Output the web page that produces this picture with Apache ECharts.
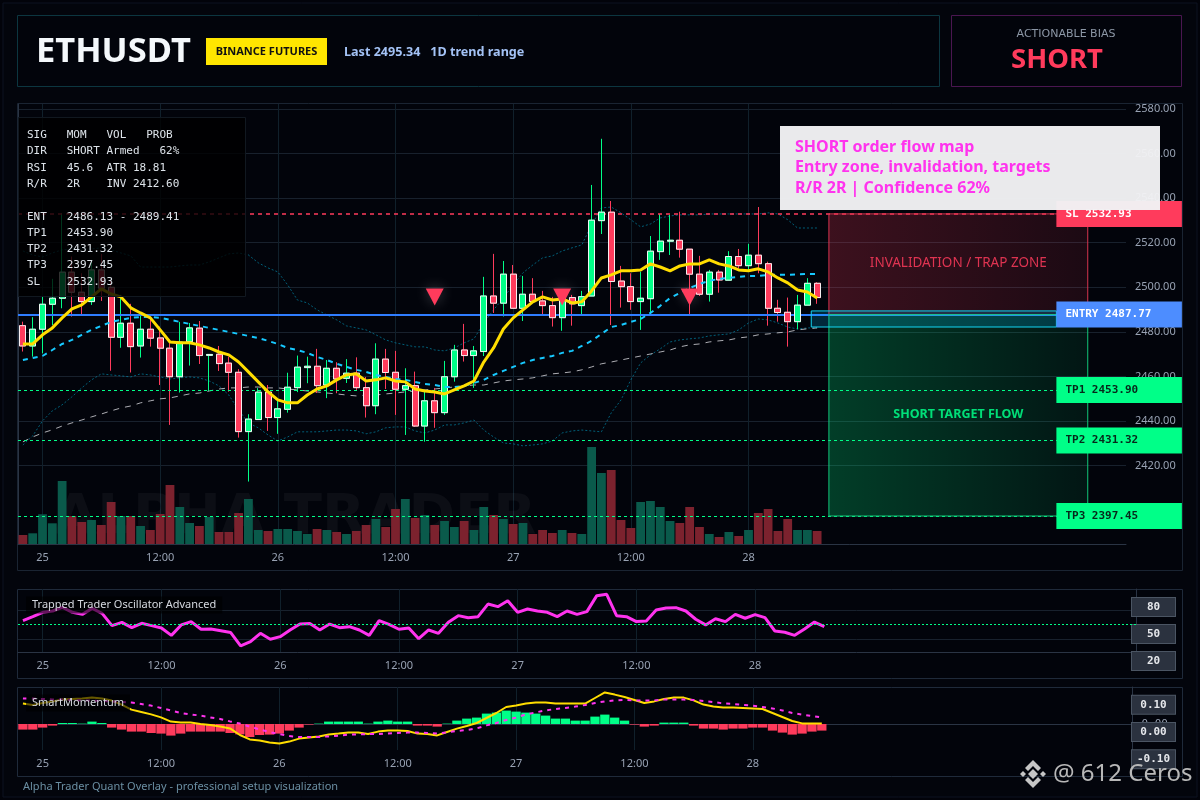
<!DOCTYPE html>
<html><head><meta charset="utf-8">
<script src="https://cdn.jsdelivr.net/npm/echarts@6/dist/echarts.min.js"></script>
<style>html,body{margin:0;background:#02030a}#c{width:1200px;height:800px}</style></head>
<body><div id="c"></div>
<script>
const opens=[2482.8,2473.7,2481.2,2492.4,2495.1,2506.8,2497.8,2493.6,2507.8,2500,2477.6,2483.9,2473.7,2481.2,2477.3,2472.7,2459.9,2475.6,2481.7,2469.5,2470,2466,2461.9,2435.3,2440.7,2453,2441.6,2445.3,2455,2464,2464.6,2456.2,2463.7,2459.2,2461.5,2455,2446.9,2467.8,2461.9,2454.3,2455.9,2437.8,2449.1,2443.8,2459.9,2471.9,2469.4,2471.2,2496.1,2492.9,2505.9,2490.6,2496.9,2493.9,2491.8,2486.4,2495.4,2491.8,2496.1,2529.9,2533.7,2502.8,2500.3,2493.6,2494.9,2516,2520.7,2521.1,2517.1,2505.9,2496.9,2506.8,2503.2,2513.8,2509.7,2514.4,2510.6,2490.6,2488.8,2484.6,2492,2501.8];
const highs=[2484.6,2486.6,2495.8,2503.8,2533.2,2513.8,2506.3,2512.3,2515,2503.3,2496.6,2492.6,2488.4,2486.9,2482.4,2475.1,2484.5,2484,2484.9,2470.1,2473.7,2468.9,2463.3,2443.1,2454.8,2456.2,2449.5,2461.7,2469.4,2468.9,2472.4,2467.4,2466.4,2467.8,2468.6,2459.8,2474.9,2472.4,2471.5,2463.7,2462.2,2454,2454.9,2467,2474.2,2483.6,2473.7,2504.7,2515,2511.8,2510,2505.1,2504.1,2498.4,2495.7,2498.8,2496.6,2498.4,2545.9,2566.6,2538.7,2509.6,2506.3,2507,2523,2532.9,2532.5,2533.9,2517.2,2514.1,2507.8,2507.8,2516.2,2517.2,2519.5,2536,2511.5,2494.4,2495.4,2496.6,2504.1,2502.3];
const lows=[2471.2,2468.9,2470.4,2483.1,2490.6,2486.9,2487.3,2492.1,2493.9,2462.6,2472.9,2461.8,2468.5,2473.4,2456.2,2438.3,2452.8,2464.9,2465.6,2453.5,2462.5,2453.2,2432.6,2412.9,2440.7,2435.6,2434.3,2443.8,2453,2457,2452.6,2450.3,2452.5,2457.1,2454,2441.6,2443.1,2454.4,2442.8,2433.8,2437.4,2430.8,2437,2442.8,2457.7,2466.7,2454.9,2469.2,2488.5,2486.9,2490.6,2484.9,2493.6,2487.6,2482.4,2480.5,2482.8,2487.3,2496.1,2523.9,2483.1,2490.9,2489.9,2480.9,2487.3,2512.3,2514.5,2513.3,2487.3,2496.1,2493.6,2497.6,2503.2,2508.6,2507.8,2506.3,2482.8,2484.6,2473.4,2481.2,2492,2492.6];
const closes=[2473.7,2481.2,2492.4,2495.1,2506.8,2497.8,2493.6,2507.8,2499.6,2477.6,2483.9,2473.4,2481.2,2477.2,2472.7,2459.9,2475.4,2481.8,2469.4,2469.9,2465.8,2461.9,2435.3,2440.9,2453,2441.6,2445.5,2455.2,2464.2,2464.6,2455.9,2463.7,2458.9,2461.5,2455,2446.9,2467.8,2461.8,2454.3,2455.9,2437.8,2449.1,2443.8,2459.9,2471.9,2469.4,2471.5,2496.1,2492.9,2505.9,2490.6,2496.9,2493.6,2491.8,2486.4,2496.6,2492.6,2495.8,2530.1,2533.7,2502.6,2500.3,2493.6,2495.1,2516.2,2520.7,2521.1,2517.1,2505.9,2496.9,2506.8,2503.3,2513.8,2509.7,2514.4,2510.6,2490.6,2488.7,2484.6,2492,2501.8,2495.4];
const volumes=[90,107,297,207,630,280,220,240,190,420,280,280,180,140,300,590,370,210,180,270,120,120,310,450,140,130,150,150,130,100,150,140,120,100,130,190,250,170,350,450,260,290,190,230,170,230,140,370,290,250,200,210,100,140,110,140,110,100,970,710,740,240,160,420,430,370,230,210,370,170,100,70,120,80,140,310,350,130,250,140,140,130];
const emaFast=[2474.6,2474.6,2478.7,2481.8,2486.3,2490.3,2492.1,2495.7,2499.3,2497,2495.7,2490.8,2488.5,2486.3,2480.9,2475.5,2475.1,2475.1,2474.2,2472.8,2471,2469.7,2466.5,2462.1,2457.6,2453.1,2449.5,2448.2,2448.2,2451.7,2454.4,2455.8,2458.5,2460.7,2461.2,2458,2458.5,2459.4,2458,2457.6,2454.4,2453.5,2453.1,2452.2,2454,2455.8,2458,2466.5,2472.8,2481.3,2486.3,2489.9,2493.5,2495.7,2494.3,2494.8,2493,2493.5,2498.4,2504.2,2505.6,2507.4,2507.4,2507.8,2510.5,2509.1,2507.4,2509.6,2510.5,2510.5,2512.3,2510.5,2509.6,2507.8,2507.4,2508.3,2506.9,2504.2,2502,2498.8,2497.9,2495.2];
const emaSlow=[2467.4,2468.3,2469.2,2471.9,2474.6,2476.4,2478.7,2480.9,2482.7,2484.5,2485.4,2486.3,2486.7,2486.7,2486.3,2485.4,2484.5,2483.6,2482.7,2481.8,2480.9,2480,2479.1,2478.2,2477.3,2476,2474.6,2472.8,2471.9,2470.6,2468.8,2467.4,2465.7,2464.3,2463,2462.1,2460.7,2459.8,2458.9,2458.5,2457.6,2456.7,2456.2,2455.3,2455.3,2455.8,2457.1,2458.5,2460.7,2462.5,2464.3,2466.1,2467.4,2468.3,2469.2,2470.6,2471.5,2473.7,2476,2479.1,2482.2,2483.1,2484.5,2485.8,2488.5,2491.7,2495.2,2497.5,2499.7,2501.5,2502.9,2503.8,2504.2,2504.7,2505.1,2505.1,2505.6,2505.6,2505.6,2505.8,2506,2506];
const emaLong=[2430.7,2432.9,2434.7,2436.1,2437.8,2439.2,2440.5,2441.9,2443.2,2444.6,2445.9,2446.8,2448.2,2449.1,2450,2450.4,2451.3,2452.2,2452.6,2453.5,2454.4,2454.9,2454.9,2455.3,2455.3,2454.9,2454.9,2454.4,2454,2453.5,2453.1,2452.6,2452.2,2451.7,2451.3,2451.7,2451.7,2452.2,2452.6,2453.1,2453.5,2454,2454.4,2454.9,2455.3,2455.8,2456.2,2456.2,2457.1,2458,2458.5,2458.9,2459.4,2460.3,2461.2,2461.6,2462.1,2463,2464.3,2465.7,2466.5,2467.4,2468.3,2469.2,2470.1,2471,2471.9,2473.3,2474.2,2474.6,2475.5,2476,2476.4,2477.3,2477.8,2478.7,2479.1,2479.6,2480,2480.9,2481.4,2481.8];
const bandUpper=[2516.3,2514.5,2513.6,2515.4,2516.8,2517.2,2517.2,2517.2,2517.7,2516.8,2515.4,2514.1,2509.1,2509.1,2509.1,2509.1,2509.6,2510,2510,2511.4,2513.2,2515,2515.4,2514.5,2511,2508.7,2506.9,2501.1,2494.3,2493,2489.9,2487.6,2485.4,2482.7,2481.8,2480.9,2478.7,2476.4,2475.1,2474.2,2473.3,2473.3,2471.9,2471.5,2472.8,2475.1,2476.9,2484,2489.9,2495.2,2501.1,2506.5,2510,2513.2,2514.1,2516.3,2517.7,2519,2528,2535.6,2536,2533.4,2530.3,2527.1,2528.4,2531.1,2532,2532.5,2532.5,2532.5,2532.9,2532.9,2532.9,2532.9,2532.9,2532.9,2533.4,2532.9,2530.3,2526.6,2526.6,2526.6];
const bandLower=[2429.3,2433.4,2440.1,2444.6,2447.3,2450.9,2454.9,2458.5,2461.2,2460.7,2460.3,2459.8,2461.2,2460.7,2459.8,2458.9,2459.4,2459.8,2459.4,2458,2455.8,2451.7,2445,2439.2,2437,2433.8,2431.1,2432.9,2435.2,2435.2,2435.2,2435.6,2436,2436,2435.6,2434.3,2435.2,2437,2437.4,2437.4,2435.6,2434.7,2436,2438.3,2438.3,2439.2,2440.5,2436,2432.9,2430.2,2429.8,2428.9,2429.3,2429.8,2431.1,2434.7,2435.6,2436,2435.6,2435.2,2443.7,2449.5,2458.5,2466.1,2469.7,2472.4,2475.5,2476.4,2476.9,2477.3,2478.2,2478.7,2479.1,2480.9,2484,2485.8,2485.4,2484,2482.2,2481.3,2481.8,2481.8];
const oscillator=[52.7,55.4,58.4,59.3,61.8,58.4,57,61.1,57.7,49.2,51.5,47.8,50.8,49.2,47.6,42.5,49.7,52,46.7,46.9,45.7,44.4,35.2,38.2,43.9,39.8,41.6,46.2,50.3,50.6,46.2,50.3,47.8,48.5,46.2,42.5,52.7,50.1,46.7,47.6,40.2,46.2,43.9,51.5,56.1,54.7,55.4,64.1,62.3,66.4,58.4,60.7,59.3,58.4,55.4,59.3,57,58.9,69.9,70.8,56.1,55.4,52,52.4,60,61.4,61.6,59.3,53.6,49.7,54,52,57,54.3,56.8,54.7,45.5,44.6,42.5,46.9,51.7,48.5];
const momHist=[-.028,-.028,-.018,-.008,.005,.005,.002,.012,.005,-.018,-.028,-.038,-.038,-.045,-.048,-.058,-.048,-.038,-.038,-.038,-.038,-.045,-.052,-.065,-.055,-.053,-.048,-.033,-.018,-.003,.002,.012,.012,.012,.012,.002,.012,.017,.012,.012,-.008,-.008,-.013,.002,.017,.027,.032,.052,.057,.067,.062,.057,.052,.042,.027,.027,.017,.017,.037,.047,.032,.017,-.003,-.013,-.008,.007,.007,.007,-.008,-.023,-.023,-.028,-.023,-.023,-.018,-.018,-.033,-.043,-.053,-.048,-.038,-.033];
const momLine=[.102,.095,.105,.113,.122,.125,.128,.133,.128,.117,.097,.072,.06,.048,.033,.012,.008,.008,0,-.005,-.012,-.022,-.055,-.077,-.082,-.092,-.098,-.088,-.073,-.068,-.062,-.052,-.048,-.043,-.043,-.05,-.038,-.032,-.033,-.035,-.048,-.05,-.057,-.04,-.023,-.01,.005,.03,.055,.085,.093,.103,.107,.108,.102,.103,.102,.102,.13,.158,.147,.135,.12,.105,.113,.125,.132,.132,.118,.097,.088,.082,.082,.08,.078,.075,.055,.035,.015,.003,.003,.002];
const momSignal=[.128,.127,.125,.123,.122,.12,.118,.117,.115,.113,.11,.107,.1,.092,.08,.068,.055,.048,.042,.033,.025,.013,.002,-.013,-.027,-.04,-.05,-.06,-.065,-.065,-.065,-.062,-.058,-.053,-.052,-.05,-.05,-.047,-.045,-.043,-.043,-.045,-.047,-.042,-.035,-.03,-.022,-.007,.005,.02,.032,.048,.058,.068,.075,.08,.087,.095,.105,.113,.118,.12,.118,.117,.118,.122,.122,.122,.12,.115,.11,.103,.1,.095,.092,.085,.078,.068,.055,.047,.04,.033];
const tickLabels=[[2,'25'],[14,'12:00'],[26,'26'],[38,'12:00'],[50,'27'],[62,'12:00'],[74,'28']];
const slotCount=113;
const priceTicks=[2420,2440,2460,2480,2500,2520,2540,2560,2580];
const signalBars=[42,55,68];
const signalPrice=2495.7;
const levelNames=['SL','ENTRY','TP1','TP2','TP3'];
const levelPrices=[2532.93,2487.77,2453.90,2431.32,2397.45];
const oscTicks=['20','50','80'];
const momTicks=['-0.10','0.00','0.10'];
const tableText='SIG   MOM   VOL   PROB\nDIR   SHORT Armed   62%\nRSI   45.6  ATR 18.81\nR/R   2R    INV 2412.60\n\nENT   2486.13 - 2489.41\nTP1   2453.90\nTP2   2431.32\nTP3   2397.45\nSL    2532.93';
const noteText='SHORT order flow map\nEntry zone, invalidation, targets\nR/R 2R | Confidence 62%';

const UP='#00ff88',DOWN='#ff3b5c';
const SANS='"Noto Sans",sans-serif',MONO='"DejaVu Sans Mono",monospace';
const cats=Array.from({length:slotCount},(_,i)=>{const t=tickLabels.find(k=>k[0]===i);return t?t[1]:'';});
const isTick=i=>tickLabels.some(k=>k[0]===i);
const candleFull=opens.map((o,i)=>[o,closes[i],lows[i],highs[i]]);
const candleBody=opens.map((o,i)=>[o,closes[i],Math.min(o,closes[i]),Math.max(o,closes[i])]);
const GRID='#18212d',VGRID='#10202b',AXIS='#2a3444',TICKTXT='#98a2b3';

function makeX(gridIndex,show){return {type:'category',gridIndex,data:cats,boundaryGap:true,show,
  axisLine:{lineStyle:{color:AXIS}},
  axisTick:{alignWithLabel:true,interval:i=>isTick(i),lineStyle:{color:AXIS},length:4},
  axisLabel:{interval:0,color:TICKTXT,fontFamily:SANS,fontSize:11,margin:8,hideOverlap:false},
  splitLine:{show:true,alignWithLabel:true,interval:i=>isTick(i),lineStyle:{color:VGRID}}};}
const boxLabel={inside:false,margin:21.5,width:43,height:18,lineHeight:18,align:'center',color:'#e5e7eb',fontFamily:MONO,fontSize:11,fontWeight:'bold',backgroundColor:'#2b323f',borderColor:'#4b5563',borderWidth:1,interval:0};

function zoneItem(fill,stroke,xa,pa,xb,pb,api){
  const a=api.coord([xa,pa]),b=api.coord([xb,pb]);
  return {type:'rect',shape:{x:a[0],y:a[1],width:b[0]-a[0],height:b[1]-a[1]},style:{fill,stroke,lineWidth:1}};
}
const redFill={type:'linear',x:0,y:0,x2:1,y2:0,colorStops:[{offset:0,color:'rgba(255,59,92,.23)'},{offset:1,color:'rgba(255,59,92,.10)'}]};
const greenFill={type:'linear',x:0,y:0,x2:1,y2:0,colorStops:[{offset:0,color:'rgba(0,255,136,.23)'},{offset:1,color:'rgba(0,255,136,.07)'}]};
const zoneBars=[82.7,109.1],tagBars=[105.9,118.7],entryBoxBars=[80.9,105.9],entryBoxPrices=[2489.41,2482.2];
const zoneLabelBar=95.9,zoneLabels=[['INVALIDATION / TRAP ZONE',2511,DOWN],['SHORT TARGET FLOW',2443.2,UP]];

const tagFill=[DOWN,'#4d8dff',UP,UP,UP],tagText=['#fff','#fff','#06281a','#06281a','#06281a'];

const option={
 animation:false,backgroundColor:'transparent',
 grid:[
  {left:18,top:104,width:1108,height:440},
  {left:18,top:589,width:1118,height:63},
  {left:18,top:687,width:1114.5,height:63},
  {left:1130,top:593.5,width:2,height:81},
  {left:1130,top:691,width:2,height:82}],
 xAxis:[makeX(0,true),makeX(1,true),makeX(2,true),
  {type:'value',gridIndex:0,min:0,max:slotCount,show:false},
  {type:'category',gridIndex:3,data:[''],show:false},
  {type:'category',gridIndex:4,data:[''],show:false}],
 yAxis:[
  {type:'value',gridIndex:0,position:'right',min:2384.9,max:2582.2,
   axisLine:{show:true,lineStyle:{color:AXIS}},axisTick:{show:false,customValues:priceTicks},
   axisLabel:{customValues:priceTicks,color:TICKTXT,fontFamily:SANS,fontSize:11,margin:9,formatter:v=>v.toFixed(2)},
   splitLine:{show:true,lineStyle:{color:GRID}}},
  {type:'value',gridIndex:0,min:0,max:4400,show:false,splitLine:{show:false}},
  {type:'value',gridIndex:1,position:'right',min:31,max:74.5,axisLine:{show:true,lineStyle:{color:AXIS}},
   axisTick:{show:false,customValues:[40,60]},axisLabel:{show:false,customValues:[40,60]},splitLine:{show:true,lineStyle:{color:GRID}}},
  {type:'value',gridIndex:2,position:'right',min:-.13,max:.185,axisLine:{show:true,lineStyle:{color:AXIS}},
   axisTick:{show:false,customValues:[0]},axisLabel:{customValues:[0],color:TICKTXT,fontFamily:MONO,fontSize:11,margin:9,formatter:v=>v.toFixed(2)},splitLine:{show:true,lineStyle:{color:GRID}}},
  {type:'category',gridIndex:3,position:'right',data:oscTicks,axisLine:{show:false},axisTick:{show:false},axisLabel:boxLabel,splitLine:{show:false}},
  {type:'category',gridIndex:4,position:'right',data:momTicks,axisLine:{show:false},axisTick:{show:false},axisLabel:boxLabel,splitLine:{show:false}}],
 graphic:{elements:[
  {type:'rect',z:-5,shape:{x:3,y:3,width:1194,height:794},style:{fill:'#03050c',stroke:'#0d1220',lineWidth:1}},
  {type:'rect',z:-4,shape:{x:17.5,y:15.5,width:922,height:71},style:{fill:'#02040b',stroke:'#0c3640',lineWidth:1}},
  {type:'rect',z:-4,shape:{x:951.5,y:15.5,width:230,height:71},style:{fill:'#02040b',stroke:'#4a1650',lineWidth:1}},
  {type:'rect',z:-4,shape:{x:17.5,y:103.5,width:1165,height:467},style:{fill:'#02040b',stroke:'#1a2432',lineWidth:1}},
  {type:'rect',z:-4,shape:{x:17.5,y:589.5,width:1165,height:89},style:{fill:'#02040b',stroke:'#1f2a3a',lineWidth:1}},
  {type:'rect',z:-4,shape:{x:17.5,y:687.5,width:1165,height:89},style:{fill:'#02040b',stroke:'#1f2a3a',lineWidth:1}},
  {type:'text',z:1,style:{text:'ALPHA TRADER',x:54,y:518,font:'bold 56px "DejaVu Sans"',fill:'rgba(255,255,255,.045)',textVerticalAlign:'middle'}},
  {type:'text',z:20,style:{text:'ETHUSDT',x:36,y:52,font:'bold 34.5px '+SANS,fill:'#f4f8fb',textVerticalAlign:'middle',shadowBlur:12,shadowColor:'rgba(0,229,255,.35)'}},
  {type:'rect',z:20,shape:{x:206,y:38,width:121,height:27},style:{fill:'#ffe600'}},
  {type:'text',z:21,style:{text:'BINANCE FUTURES',x:266.5,y:51.5,font:'bold 11px '+SANS,fill:'#111',textAlign:'center',textVerticalAlign:'middle'}},
  {type:'text',z:20,style:{text:'Last 2495.34   1D trend range',x:344,y:52,font:'bold 12.6px '+SANS,fill:'#a3c2f5',textVerticalAlign:'middle'}},
  {type:'text',z:20,style:{text:'ACTIONABLE BIAS',x:1066,y:34,font:'11px "DejaVu Sans"',fill:'#8c97a6',textAlign:'center',textVerticalAlign:'middle'}},
  {type:'text',z:20,style:{text:'SHORT',x:1057,y:60,font:'bold 27.5px '+SANS,fill:DOWN,textAlign:'center',textVerticalAlign:'middle',shadowBlur:10,shadowColor:'rgba(255,59,92,.5)'}},
  {type:'rect',z:50,shape:{x:18.5,y:117.5,width:227,height:179},style:{fill:'rgba(0,0,0,.8)',stroke:'#111820',lineWidth:1}},
  {type:'text',z:51,style:{text:tableText,x:27,y:127,font:'11px '+MONO,fill:'#dde3ea',lineHeight:16.3}},
  {type:'rect',z:60,shape:{x:780,y:126,width:380,height:84},style:{fill:'rgba(242,242,244,.97)'}},
  {type:'text',z:61,style:{text:noteText,x:795,y:137,font:'bold 16px '+SANS,fill:'#ff33ee',lineHeight:20.6}},
  {type:'text',z:50,style:{text:'Trapped Trader Oscillator Advanced',x:26,y:605,font:'11px '+SANS,fill:'#d5d9e0',textVerticalAlign:'middle',backgroundColor:'rgba(0,0,0,.6)',padding:[3,6]}},
  {type:'text',z:50,style:{text:'SmartMomentum',x:26,y:703,font:'11px '+SANS,fill:'#d5d9e0',textVerticalAlign:'middle',backgroundColor:'rgba(0,0,0,.6)',padding:[3,6]}},
  {type:'text',z:20,style:{text:'Alpha Trader Quant Overlay - professional setup visualization',x:23,y:787,font:'11px '+SANS,fill:'#6b8fa3',textVerticalAlign:'middle'}},
  {type:'polygon',z:70,shape:{points:[[1033,769],[1038,774],[1033,779],[1028,774]]},style:{fill:'#c6c6c6'}},
  {type:'polygon',z:70,shape:{points:[[1023,771],[1026,774],[1023,777],[1020,774]]},style:{fill:'#c6c6c6'}},
  {type:'polygon',z:70,shape:{points:[[1043,771],[1046,774],[1043,777],[1040,774]]},style:{fill:'#c6c6c6'}},
  {type:'polygon',z:70,shape:{points:[[1033,760],[1041,768],[1038,771],[1033,766],[1028,771],[1025,768]]},style:{fill:'#c6c6c6'}},
  {type:'polygon',z:70,shape:{points:[[1033,788],[1041,780],[1038,777],[1033,782],[1028,777],[1025,780]]},style:{fill:'#c6c6c6'}},
  {type:'text',z:70,style:{text:'@ 612 Ceros',x:1053,y:774,font:'24px "Noto Sans"',fill:'#b8b8b8',textVerticalAlign:'middle'}}
 ]},
 series:[
  {type:'bar',name:'Volume',xAxisIndex:0,yAxisIndex:1,barWidth:8.8,z:1,
   data:volumes.map((v,i)=>({value:v,itemStyle:{color:closes[i]>=opens[i]?'#0a5a4b':'#7c222e'}}))},
  {type:'line',name:'Upper band',xAxisIndex:0,yAxisIndex:0,data:bandUpper,symbol:'none',z:3,lineStyle:{color:'rgba(0,170,210,.55)',width:1,type:[2,2]}},
  {type:'line',name:'Lower band',xAxisIndex:0,yAxisIndex:0,data:bandLower,symbol:'none',z:3,lineStyle:{color:'rgba(0,170,210,.55)',width:1,type:[2,2]}},
  {type:'line',name:'Long EMA',xAxisIndex:0,yAxisIndex:0,data:emaLong,symbol:'none',z:3,lineStyle:{color:'rgba(230,230,235,.75)',width:1,type:[6,6]}},
  {type:'candlestick',name:'Wicks',xAxisIndex:0,yAxisIndex:0,data:candleFull,barWidth:6.5,z:4,
   itemStyle:{color:UP,color0:DOWN,borderColor:UP,borderColor0:DOWN,borderWidth:1},
   markLine:{silent:true,symbol:'none',label:{show:false},animation:false,data:[
    {yAxis:levelPrices[0],lineStyle:{color:DOWN,type:[4,4],width:1.5}},
    {yAxis:levelPrices[1],lineStyle:{color:'#2f7dff',type:'solid',width:2}},
    {yAxis:levelPrices[2],lineStyle:{color:UP,type:[3,3],width:1}},
    {yAxis:levelPrices[3],lineStyle:{color:UP,type:[3,3],width:1}},
    {yAxis:levelPrices[4],lineStyle:{color:UP,type:[3,3],width:1}}]}},
  {type:'candlestick',name:'Bodies',xAxisIndex:0,yAxisIndex:0,data:candleBody,barWidth:6.5,z:5,
   itemStyle:{color:UP,color0:DOWN,borderColor:'#f2f6f4',borderColor0:'#f6eef0',borderWidth:1}},
  {type:'line',name:'EMA slow',xAxisIndex:0,yAxisIndex:0,data:emaSlow,symbol:'none',z:6,lineStyle:{color:'#17c9ff',width:2,type:[5,5]}},
  {type:'line',name:'EMA fast',xAxisIndex:0,yAxisIndex:0,data:emaFast,symbol:'none',z:7,lineStyle:{color:'#ffdd00',width:3}},
  {type:'scatter',name:'Signals',xAxisIndex:0,yAxisIndex:0,z:8,symbol:'triangle',symbolRotate:180,symbolSize:[18,17],
   data:signalBars.map(i=>[i,signalPrice]),itemStyle:{color:DOWN,opacity:1,shadowBlur:14,shadowColor:'rgba(255,255,255,.25)'}},
  {type:'custom',name:'Zones',xAxisIndex:3,yAxisIndex:0,z:9,data:[0],renderItem:(p,api)=>({type:'group',children:[
    zoneItem(redFill,'#d8344f',zoneBars[0],levelPrices[0],zoneBars[1],levelPrices[1],api),
    zoneItem(greenFill,'#12c87a',zoneBars[0],levelPrices[1],zoneBars[1],levelPrices[4],api),
    zoneItem('rgba(0,190,255,.2)','#12d6f5',entryBoxBars[0],entryBoxPrices[0],entryBoxBars[1],entryBoxPrices[1],api),
    ...zoneLabels.map(z=>{const c=api.coord([zoneLabelBar,z[1]]);return {type:'text',style:{text:z[0],x:c[0],y:c[1],fill:z[2],opacity:.85,font:(z[2]===UP?'bold 12.5px ':'13.5px ')+SANS,textAlign:'center',textVerticalAlign:'middle'}};})
  ]})},
  {type:'custom',name:'Level tags',xAxisIndex:3,yAxisIndex:0,z:10,data:levelPrices.map((p,i)=>[i,p]),renderItem:(p,api)=>{
    const i=api.value(0),v=api.value(1),a=api.coord([tagBars[0],v]),b=api.coord([tagBars[1],v]);
    return {type:'group',children:[
     {type:'rect',shape:{x:a[0],y:a[1]-13,width:b[0]-a[0],height:26},style:{fill:tagFill[i]}},
     {type:'text',style:{text:levelNames[i]+' '+v.toFixed(2),x:a[0]+9,y:a[1],fill:tagText[i],font:'bold 11px '+MONO,textVerticalAlign:'middle'}}]};
  }},
  {type:'line',name:'Oscillator',xAxisIndex:1,yAxisIndex:2,data:oscillator,symbol:'none',z:4,lineStyle:{color:'#ff33ee',width:3},
   markLine:{silent:true,symbol:'none',label:{show:false},data:[{yAxis:50,lineStyle:{color:UP,type:[2,2],width:1}}]}},
  {type:'bar',name:'Momentum histogram',xAxisIndex:2,yAxisIndex:3,barWidth:9.3,z:3,
   data:momHist.map(v=>({value:v,itemStyle:{color:v>=0?UP:DOWN}}))},
  {type:'line',name:'Momentum',xAxisIndex:2,yAxisIndex:3,data:momLine,symbol:'none',z:4,lineStyle:{color:'#ffdd00',width:2}},
  {type:'line',name:'Signal',xAxisIndex:2,yAxisIndex:3,data:momSignal,symbol:'none',z:5,lineStyle:{color:'#ff33ee',width:2,type:[4,5]}},
  {type:'bar',xAxisIndex:4,yAxisIndex:4,data:[],silent:true},
  {type:'bar',xAxisIndex:5,yAxisIndex:5,data:[],silent:true}
 ]
};
echarts.init(document.getElementById('c')).setOption(option);
</script></body></html>
